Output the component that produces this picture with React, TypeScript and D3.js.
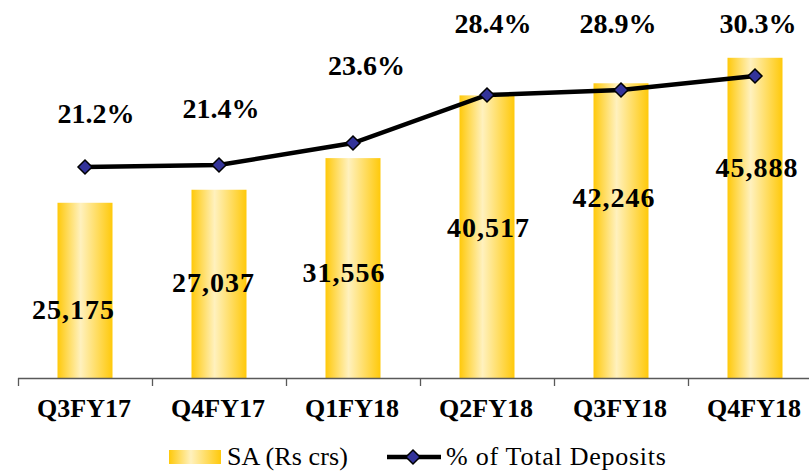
import React from "react";
import * as d3 from "d3";

const categories = ["Q3FY17", "Q4FY17", "Q1FY18", "Q2FY18", "Q3FY18", "Q4FY18"];
const saValues = [25175, 27037, 31556, 40517, 42246, 45888];
const pctValues = [21.2, 21.4, 23.6, 28.4, 28.9, 30.3];
const saLabels = ["25,175", "27,037", "31,556", "40,517", "42,246", "45,888"];
const pctLabels = ["21.2%", "21.4%", "23.6%", "28.4%", "28.9%", "30.3%"];

// layout for data labels (pixel placement, not data)
const saLabelBaseline = [319, 292, 282, 237, 207, 177];
const saLabelDx = [-11.5, -5.5, -9, 1.5, -7, 2];
const pctLabelBaseline = [123, 118, 75, 33, 33, 33];
const pctLabelDx = [11, 2, 13.5, 6, -3, 3];

const W = 809;
const H = 471;
const FONT = "'Liberation Serif', 'Times New Roman', serif";

export default function App() {
  const x = d3.scaleBand<string>().domain(categories).range([18, 822]).paddingInner(0).paddingOuter(0);
  const yBar = d3.scaleLinear().domain([0, 50000]).range([379, 29]);
  const yPct = d3.scaleLinear().domain([0, 35]).range([379, 29]);
  const bw = 55;
  const cx = (c: string) => (x(c) as number) + x.bandwidth() / 2;
  const line = d3
    .line<number>()
    .x((_, i) => cx(categories[i]))
    .y((d) => yPct(d))
    .curve(d3.curveLinear);
  const diamond = (px: number, py: number, r: number) =>
    `M${px},${py - r}L${px + r},${py}L${px},${py + r}L${px - r},${py}Z`;

  return (
    <svg width={W} height={H} style={{ position: "absolute", left: 0, top: 0, background: "#fff" }}>
      <defs>
        <linearGradient id="barGrad" x1="0" x2="1" y1="0" y2="0">
          <stop offset="0%" stopColor="#FFC90A" />
          <stop offset="42%" stopColor="#FFF1BE" />
          <stop offset="100%" stopColor="#FFC90A" />
        </linearGradient>
      </defs>
      {categories.map((c, i) => (
        <rect
          key={c}
          x={cx(c) - bw / 2}
          y={yBar(saValues[i])}
          width={bw}
          height={yBar(0) - yBar(saValues[i])}
          fill="url(#barGrad)"
        />
      ))}
      {/* axis */}
      <line x1={18} x2={822} y1={378.5} y2={378.5} stroke="#595959" strokeWidth={1.3} />
      {d3.range(categories.length + 1).map((i) => {
        const tx = Math.round(18 + i * x.bandwidth()) + 0.5;
        return <line key={i} x1={tx} x2={tx} y1={378} y2={386} stroke="#595959" strokeWidth={1.3} />;
      })}
      {categories.map((c) => (
        <text
          key={c}
          x={cx(c) - 1}
          y={417}
          textAnchor="middle"
          fontFamily={FONT}
          fontWeight="bold"
          fontSize={26}
          fill="#000"
        >
          {c}
        </text>
      ))}
      {/* line */}
      <path d={line(pctValues) as string} fill="none" stroke="#000" strokeWidth={4.5} />
      {pctValues.map((v, i) => (
        <path
          key={i}
          d={diamond(cx(categories[i]), yPct(v), 7)}
          fill="#333399"
          stroke="#000"
          strokeWidth={1.5}
        />
      ))}
      {/* labels */}
      {categories.map((c, i) => (
        <text
          key={"sa" + c}
          x={cx(c) + saLabelDx[i]}
          y={saLabelBaseline[i]}
          textAnchor="middle"
          fontFamily={FONT}
          fontWeight="bold"
          fontSize={28}
          letterSpacing={1}
          fill="#000"
        >
          {saLabels[i]}
        </text>
      ))}
      {categories.map((c, i) => (
        <text
          key={"pc" + c}
          x={cx(c) + pctLabelDx[i]}
          y={pctLabelBaseline[i]}
          textAnchor="middle"
          fontFamily={FONT}
          fontWeight="bold"
          fontSize={28}
          fill="#000"
        >
          {pctLabels[i]}
        </text>
      ))}
      {/* legend */}
      <rect x={169} y={450} width={52} height={14} fill="url(#barGrad)" />
      <text x={227} y={465} fontFamily={FONT} fontSize={26} letterSpacing={0.1} fill="#000">
        SA (Rs crs)
      </text>
      <line x1={387} x2={441} y1={457} y2={457} stroke="#000" strokeWidth={4.5} />
      <path d={diamond(413, 457, 7)} fill="#333399" stroke="#000" strokeWidth={1.5} />
      <text x={446} y={465} fontFamily={FONT} fontSize={26} letterSpacing={0.75} fill="#000">
        % of Total Deposits
      </text>
    </svg>
  );
}
